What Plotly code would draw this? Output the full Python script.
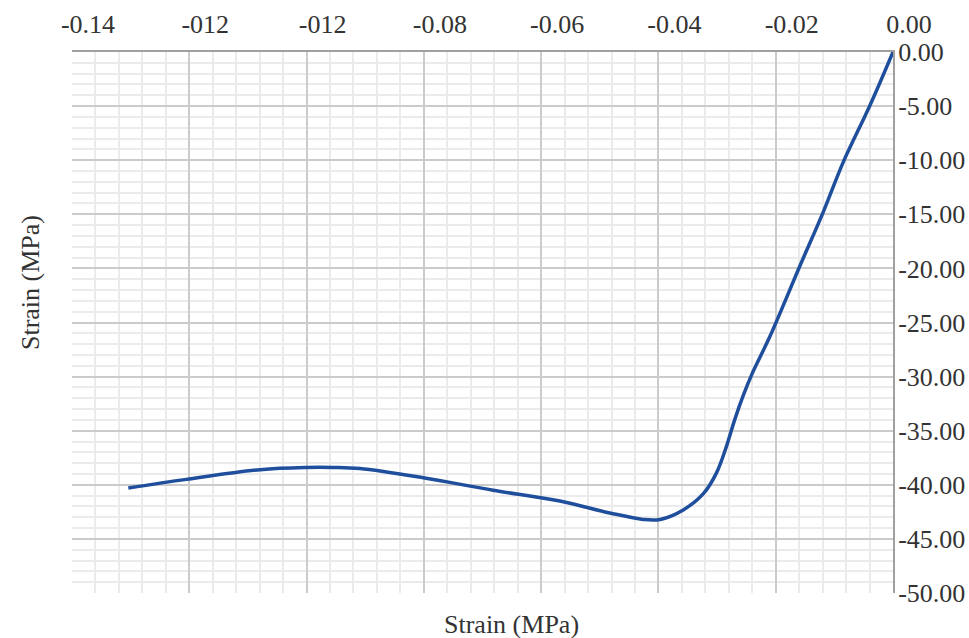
import plotly.graph_objects as go

# Data
strain = [-0.1304, -0.1205, -0.1079, -0.1000, -0.0955, -0.0909, -0.0801, -0.0682,
          -0.0568, -0.0483, -0.0426, -0.0397, -0.0357, -0.0323, -0.0301, -0.0284,
          -0.0270, -0.0255, -0.0240, -0.0210, -0.0159, -0.0119, -0.0085, -0.0039, 0.0]
stress = [-40.3, -39.5, -38.6, -38.4, -38.4, -38.5, -39.35, -40.5,
          -41.5, -42.6, -43.2, -43.2, -42.3, -40.8, -38.9, -36.45,
          -34.0, -31.7, -29.7, -26.3, -19.8, -14.8, -10.2, -4.9, 0.0]

x_tickvals = [-0.14, -0.12, -0.10, -0.08, -0.06, -0.04, -0.02, 0.0]
x_ticktext = ["-0.14", "-012", "-012", "-0.08", "-0.06", "-0.04", "-0.02", "0.00"]
y_tickvals = [0, -5, -10, -15, -20, -25, -30, -35, -40, -45, -50]
y_ticktext = ["0.00", "-5.00", "-10.00", "-15.00", "-20.00", "-25.00",
              "-30.00", "-35.00", "-40.00", "-45.00", "-50.00"]
x_title = "Strain (MPa)"
y_title = "Strain (MPa)"

FONT = "Liberation Serif, Times New Roman, serif"
TXT = "#333333"
MAJOR = "#cbcbcb"
MINOR = "#ebebeb"

fig = go.Figure()
fig.add_trace(go.Scatter(
    x=strain, y=stress, mode="lines",
    line=dict(color="#1f4e9c", width=3.5, shape="spline", smoothing=1.0),
    cliponaxis=False, showlegend=False,
))

fig.update_layout(
    width=969, height=638,
    margin=dict(l=72, r=76, t=52, b=45),
    paper_bgcolor="white", plot_bgcolor="white",
    font=dict(family=FONT, size=26, color=TXT),
    xaxis=dict(
        side="top", range=[-0.14, 0.0], automargin=False,
        tickmode="array", tickvals=x_tickvals, ticktext=x_ticktext,
        ticks="", ticklabelshift=16, ticklabelstandoff=7,
        showgrid=True, gridcolor=MAJOR, gridwidth=1.5,
        showline=True, linecolor="#a0a0a0", linewidth=2, mirror=False,
        zeroline=False,
        minor=dict(tickmode="linear", tick0=0, dtick=0.004, showgrid=True,
                   gridcolor=MINOR, gridwidth=1.5),
    ),
    yaxis=dict(
        side="right", range=[-50, 0], automargin=False,
        tickmode="array", tickvals=y_tickvals, ticktext=y_ticktext,
        ticks="", ticklabelstandoff=-2, tickfont=dict(size=26),
        showgrid=True, gridcolor=MAJOR, gridwidth=1.5,
        showline=True, linecolor="#a0a0a0", linewidth=2,
        zeroline=False,
        minor=dict(tickmode="linear", tick0=0, dtick=1, showgrid=True,
                   gridcolor=MINOR, gridwidth=1.5),
    ),
    annotations=[
        dict(text=x_title, xref="paper", yref="paper", x=0.535, y=0.0,
             yshift=-31, showarrow=False, font=dict(size=26, color=TXT),
             xanchor="center", yanchor="middle"),
        dict(text=y_title, xref="paper", yref="paper", x=0, xshift=-42,
             y=0.573, showarrow=False, textangle=-90,
             font=dict(size=26, color=TXT),
             xanchor="center", yanchor="middle"),
    ],
)

# remove the default 8px page margin so the 969x638 figure fills the window
fig.write_html(
    "out.html",
    config={"displayModeBar": False},
    post_script="document.body.style.margin='0';document.body.style.overflow='hidden';",
)
